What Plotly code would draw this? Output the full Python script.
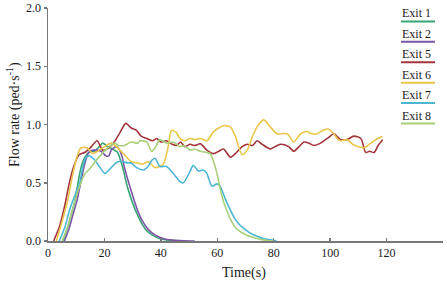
import plotly.graph_objects as go

# ---------------- data ----------------
exit1_t = [5.2, 7, 8.5, 9.5, 10.5, 11.7, 13.1, 15.2, 16.5, 18.2, 19.4, 21.2, 23.5, 24.7, 25.6, 26.5,
           28.3, 30.7, 31.8, 33, 34.9, 37, 39.7, 42, 45, 48]
exit1_v = [0, 0.12, 0.25, 0.34, 0.48, 0.63, 0.72, 0.77, 0.77, 0.81, 0.84, 0.81, 0.78, 0.76, 0.70, 0.63,
           0.45, 0.28, 0.22, 0.16, 0.09, 0.05, 0.02, 0.01, 0.003, 0]

exit2_t = [5.8, 7.5, 9, 10.2, 11.5, 12.7, 13.7, 14.7, 17, 18.8, 20.6, 21.6, 22.4, 24.2, 25.4, 26.3,
           27.1, 29.5, 31.8, 33.5, 35.5, 38, 41, 44, 48, 52]
exit2_v = [0, 0.11, 0.24, 0.34, 0.49, 0.63, 0.72, 0.77, 0.78, 0.77, 0.73, 0.73, 0.78, 0.81, 0.78, 0.72,
           0.63, 0.43, 0.26, 0.17, 0.10, 0.05, 0.02, 0.008, 0.002, 0]

exit5_t = [2, 4, 6, 7.4, 9, 11, 13, 15, 17.4, 19.4, 21.5, 23.5, 25.5, 27.6, 29.5, 31.4, 33, 35, 37,
           38.5, 40, 42, 44, 45.6, 47, 48.5, 50.4, 52, 54, 56.3, 58.7, 60.5, 62.2, 64.6, 66.4, 68.8,
           70.6, 72.5, 74.1, 75.9, 78.8, 80.5, 82.4, 85.3, 87.1, 89, 90.7, 92.5, 94.2, 96.6, 97.8,
           99.5, 101.3, 103.7, 106, 108.4, 110.9, 112.6, 114, 115.6, 117, 118.6]
exit5_v = [0, 0.12, 0.31, 0.48, 0.63, 0.74, 0.76, 0.80, 0.86, 0.78, 0.80, 0.85, 0.93, 1.01, 0.97, 0.95,
           0.90, 0.88, 0.86, 0.88, 0.85, 0.86, 0.83, 0.82, 0.85, 0.81, 0.83, 0.82, 0.835, 0.78, 0.75,
           0.77, 0.79, 0.72, 0.75, 0.81, 0.83, 0.82, 0.86, 0.83, 0.79, 0.81, 0.83, 0.81, 0.77, 0.81,
           0.85, 0.84, 0.82, 0.84, 0.86, 0.89, 0.92, 0.87, 0.87, 0.90, 0.88, 0.76, 0.77, 0.76, 0.82, 0.87]

exit6_t = [3, 5, 6.9, 8, 9.3, 10.5, 11.7, 13.9, 15.8, 17.6, 20, 22.4, 24.7, 27.1, 29.5, 31.8, 33.5,
           35.5, 37.9, 39.5, 40.9, 42.5, 43.8, 45.5, 46.8, 48.5, 50.4, 52, 53.9, 56.3, 58.7, 60.5,
           62.2, 64.6, 66.4, 68.8, 70.6, 72.5, 74.1, 76.4, 78.8, 81.2, 84.8, 87.1, 89.5, 91.9, 93.5,
           95.4, 97.5, 99.5, 101.3, 102.5, 103.7, 106, 108, 110, 112, 114.4, 116.8, 118.6]
exit6_v = [0, 0.17, 0.34, 0.48, 0.63, 0.74, 0.80, 0.80, 0.75, 0.77, 0.81, 0.84, 0.80, 0.74, 0.68, 0.67,
           0.66, 0.68, 0.63, 0.64, 0.66, 0.80, 0.95, 0.93, 0.88, 0.86, 0.88, 0.87, 0.88, 0.86, 0.94,
           0.97, 0.99, 0.98, 0.90, 0.74, 0.78, 0.90, 0.98, 1.04, 0.98, 0.92, 0.92, 0.85, 0.92, 0.94,
           0.92, 0.92, 0.95, 0.96, 0.92, 0.88, 0.86, 0.87, 0.83, 0.81, 0.80, 0.84, 0.88, 0.90]

exit7_t = [4, 6, 7.7, 10, 11.1, 12.3, 13.5, 14.7, 16.4, 18.2, 20.2, 22.4, 24.7, 26.6, 28.2, 29.5,
           31.4, 33.8, 35.5, 36.7, 37.9, 39.7, 42, 44.4, 46.8, 48, 50.4, 51.5, 53.3, 55.1, 56.3,
           58.1, 59.9, 61, 62.2, 63.4, 65.8, 67.5, 69.3, 71.5, 74.1, 76.5, 78.8, 81]
exit7_v = [0, 0.12, 0.27, 0.42, 0.48, 0.63, 0.72, 0.73, 0.70, 0.64, 0.58, 0.63, 0.68, 0.68, 0.67, 0.67,
           0.63, 0.61, 0.64, 0.69, 0.71, 0.64, 0.64, 0.58, 0.51, 0.50, 0.60, 0.65, 0.60, 0.61, 0.58,
           0.47, 0.49, 0.47, 0.40, 0.33, 0.21, 0.15, 0.11, 0.07, 0.04, 0.02, 0.01, 0]

exit8_t = [5, 7, 8.7, 10.5, 12.9, 15.2, 17, 18.8, 20.7, 21.8, 23.5, 25, 27, 29.5, 31.8, 32.6, 35,
           36.7, 38, 39.7, 42, 44.4, 46.8, 48, 50.4, 52.2, 53.9, 56.3, 57.5, 58.7, 59.9, 61, 62.2,
           63.4, 64.6, 66.3, 68.1, 70.5, 72.9, 75, 77.6, 80]
exit8_v = [0, 0.12, 0.27, 0.42, 0.57, 0.63, 0.69, 0.74, 0.79, 0.81, 0.84, 0.82, 0.82, 0.85, 0.84, 0.86,
           0.85, 0.77, 0.80, 0.87, 0.84, 0.85, 0.81, 0.82, 0.78, 0.79, 0.77, 0.76, 0.75, 0.68, 0.58,
           0.45, 0.34, 0.26, 0.19, 0.12, 0.08, 0.05, 0.03, 0.015, 0.005, 0]

series_names = ["Exit 1", "Exit 2", "Exit 5", "Exit 6", "Exit 7", "Exit 8"]
series_colors = ["#35a675", "#7b55a6", "#a3343c", "#eac64a", "#4db7d3", "#a8cf7a"]
series_t = [exit1_t, exit2_t, exit5_t, exit6_t, exit7_t, exit8_t]
series_v = [exit1_v, exit2_v, exit5_v, exit6_v, exit7_v, exit8_v]

x_ticks = [0, 20, 40, 60, 80, 100, 120]
y_ticks = [0.0, 0.5, 1.0, 1.5, 2.0]

# ---------------- figure ----------------
FONT = "Liberation Serif, Times New Roman, serif"
fig = go.Figure()
for name, col, t, v in zip(series_names, series_colors, series_t, series_v):
    fig.add_trace(go.Scatter(x=t, y=v, mode="lines", name=name,
                             line=dict(color=col, width=1.6, shape="spline", smoothing=0.7),
                             showlegend=False, hoverinfo="skip"))

W, H = 447, 283
ml, mr, mt, mb = 48, 4, 7.5, 41.5
pw, ph = W - ml - mr, H - mt - mb

def px(x):
    return (x - ml) / pw

def py(y):
    return (H - mb - y) / ph

# custom legend: text above a coloured line
text_y = [13, 33.5, 54, 74.5, 95, 115.5]
line_y = [21, 41.5, 62, 82.5, 103, 123.5]
for name, col, ty, ly in zip(series_names, series_colors, text_y, line_y):
    fig.add_annotation(x=px(416), y=py(ty), xref="paper", yref="paper", text=name,
                       showarrow=False, font=dict(family=FONT, size=12, color="#1a1a1a"),
                       xanchor="center", yanchor="middle")
    fig.add_shape(type="line", xref="paper", yref="paper", x0=px(401), x1=px(435),
                  y0=py(ly), y1=py(ly), line=dict(color=col, width=2))

fig.add_annotation(x=px(13), y=py(115), xref="paper", yref="paper",
                   text="Flow rate (ped·s<sup>-1</sup>)", textangle=-90, showarrow=False,
                   font=dict(family=FONT, size=14, color="#1a1a1a"), xanchor="center", yanchor="middle")
fig.add_annotation(x=px(244), y=py(274), xref="paper", yref="paper",
                   text="Time(s)", showarrow=False,
                   font=dict(family=FONT, size=14, color="#1a1a1a"), xanchor="center", yanchor="middle")

fig.update_layout(
    width=W, height=H,
    margin=dict(l=ml, r=mr, t=mt, b=mb, pad=0, autoexpand=False),
    paper_bgcolor="white", plot_bgcolor="white",
    font=dict(family=FONT, size=12, color="#1a1a1a"),
    hovermode=False,
    xaxis=dict(range=[0, 140], tickvals=x_ticks, ticks="inside", ticklen=3, tickwidth=1.5,
               tickcolor="#777", showline=True, linecolor="#777", linewidth=1.5,
               showgrid=False, zeroline=False, automargin=False,
               tickfont=dict(family=FONT, size=12)),
    yaxis=dict(range=[0, 2.0], tickvals=y_ticks, tickformat=".1f", ticks="outside", ticklen=3,
               tickwidth=1.5, tickcolor="#777", showline=True, linecolor="#777", linewidth=1.5,
               showgrid=False, zeroline=False, automargin=False,
               tickfont=dict(family=FONT, size=12)),
)

fig.write_html("out.html", config={"displayModeBar": False, "staticPlot": True},
               post_script="document.body.style.margin='0';")
